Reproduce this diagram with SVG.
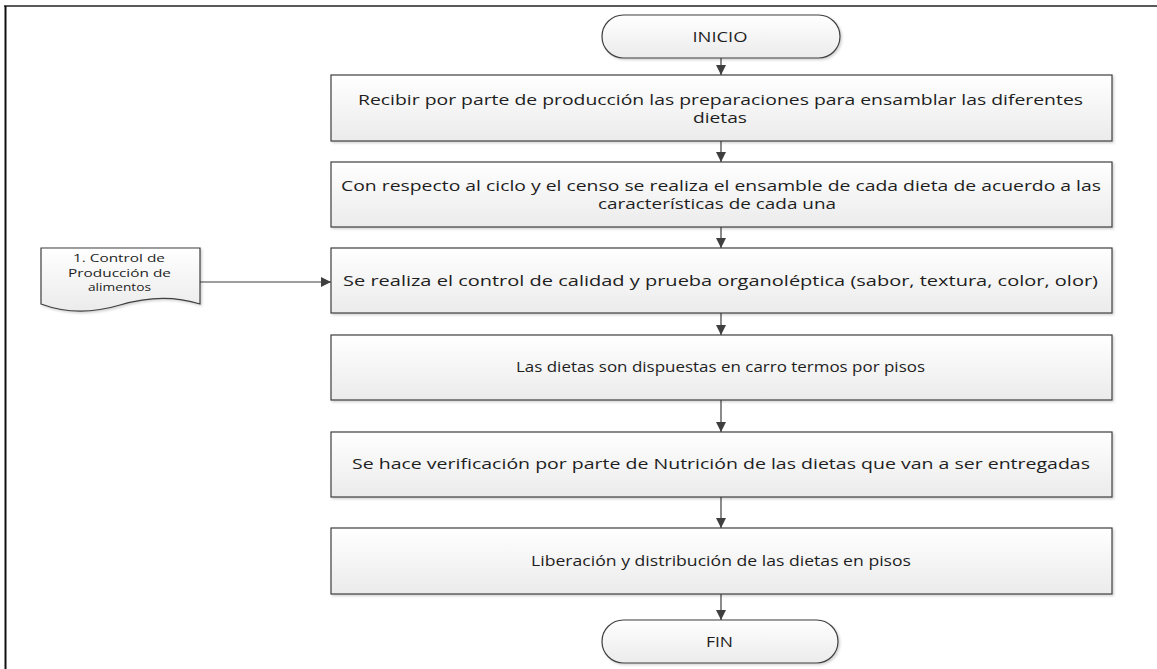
<svg xmlns="http://www.w3.org/2000/svg" width="1157" height="669" viewBox="0 0 1157 669">
  <style>
    .box { fill: url(#fillGrad); stroke: #3f3f3f; stroke-width: 1.2; filter: url(#shadow); }
    .lbl { font-family: "Open Sans", "Liberation Sans", sans-serif; font-size: 15px; fill: #1e1e1e; text-anchor: middle; }
    .small { font-size: 10.5px; }
    .conn { stroke: #3f3f3f; stroke-width: 1.2; fill: none; marker-end: url(#arrow); }
  </style>
  <defs>
    <linearGradient id="fillGrad" x1="0" y1="0" x2="0" y2="1">
      <stop offset="0" stop-color="#ffffff"/>
      <stop offset="1" stop-color="#ebebeb"/>
    </linearGradient>
    <filter id="shadow" x="-5%" y="-10%" width="110%" height="130%">
      <feDropShadow dx="1.5" dy="1.5" stdDeviation="1" flood-color="#000" flood-opacity="0.18"/>
    </filter>
    <marker id="arrow" viewBox="0 0 10 10" refX="10" refY="5" markerWidth="11" markerHeight="10" markerUnits="userSpaceOnUse" orient="auto">
      <path d="M0,0 L10,5 L0,10 z" fill="#3f3f3f"/>
    </marker>
  </defs>

  <rect width="1157" height="669" fill="#ffffff"/>

  <!-- page frame -->
  <g id="frame">
    <line x1="4" y1="6" x2="1157" y2="6" stroke="#5a5a5a" stroke-width="2"/>
    <line x1="5.5" y1="6" x2="5.5" y2="669" stroke="#111" stroke-width="2"/>
  </g>

  <!-- connectors -->
  <g id="connectors">
    <line class="conn" x1="721" y1="58" x2="721" y2="75"/>
    <line class="conn" x1="721" y1="141" x2="721" y2="162"/>
    <line class="conn" x1="721" y1="227" x2="721" y2="248"/>
    <line class="conn" x1="721" y1="313" x2="721" y2="335"/>
    <line class="conn" x1="721" y1="400" x2="721" y2="432"/>
    <line class="conn" x1="721" y1="497" x2="721" y2="528"/>
    <line class="conn" x1="721" y1="594" x2="721" y2="620"/>
    <line class="conn" x1="200" y1="282" x2="331" y2="282"/>
  </g>

  <g id="inicio">
    <rect class="box" x="602" y="15" width="238" height="43" rx="21.5" ry="21.5"/>
    <text class="lbl" x="720" y="42" textLength="55" lengthAdjust="spacingAndGlyphs">INICIO</text>
  </g>

  <g id="recibir">
    <rect class="box" x="331" y="75" width="781" height="66"/>
    <text class="lbl" x="720.5" y="105" textLength="725" lengthAdjust="spacingAndGlyphs">Recibir por parte de producción las preparaciones para ensamblar las diferentes</text>
    <text class="lbl" x="720" y="123" textLength="54" lengthAdjust="spacingAndGlyphs">dietas</text>
  </g>

  <g id="ensamble">
    <rect class="box" x="331" y="162" width="781" height="65"/>
    <text class="lbl" x="721" y="191" textLength="760" lengthAdjust="spacingAndGlyphs">Con respecto al ciclo y el censo se realiza el ensamble de cada dieta de acuerdo a las</text>
    <text class="lbl" x="717" y="209" textLength="238" lengthAdjust="spacingAndGlyphs">características de cada una</text>
  </g>

  <g id="control">
    <rect class="box" x="331" y="248" width="781" height="65"/>
    <text class="lbl" x="720.5" y="286" textLength="755" lengthAdjust="spacingAndGlyphs">Se realiza el control de calidad y prueba organoléptica (sabor, textura, color, olor)</text>
  </g>

  <g id="carros">
    <rect class="box" x="331" y="335" width="781" height="65"/>
    <text class="lbl" x="720.5" y="372" textLength="409" lengthAdjust="spacingAndGlyphs">Las dietas son dispuestas en carro termos por pisos</text>
  </g>

  <g id="verificacion">
    <rect class="box" x="331" y="432" width="781" height="65"/>
    <text class="lbl" x="721" y="469" textLength="738" lengthAdjust="spacingAndGlyphs">Se hace verificación por parte de Nutrición de las dietas que van a ser entregadas</text>
  </g>

  <g id="liberacion">
    <rect class="box" x="331" y="528" width="781" height="66"/>
    <text class="lbl" x="721" y="566" textLength="380" lengthAdjust="spacingAndGlyphs">Liberación y distribución de las dietas en pisos</text>
  </g>

  <g id="fin">
    <rect class="box" x="602" y="620" width="236" height="43" rx="21.5" ry="21.5"/>
    <text class="lbl" x="719.5" y="647" textLength="27" lengthAdjust="spacingAndGlyphs">FIN</text>
  </g>

  <g id="documento">
    <path class="box" d="M41,248 H200 V304 C175,296 150,296 120,305 C90,314 65,313 41,304 Z"/>
    <text class="lbl small" x="119" y="262" textLength="92" lengthAdjust="spacingAndGlyphs">1. Control de</text>
    <text class="lbl small" x="119.5" y="276.5" textLength="103" lengthAdjust="spacingAndGlyphs">Producción de</text>
    <text class="lbl small" x="119.5" y="291" textLength="63" lengthAdjust="spacingAndGlyphs">alimentos</text>
  </g>
</svg>
